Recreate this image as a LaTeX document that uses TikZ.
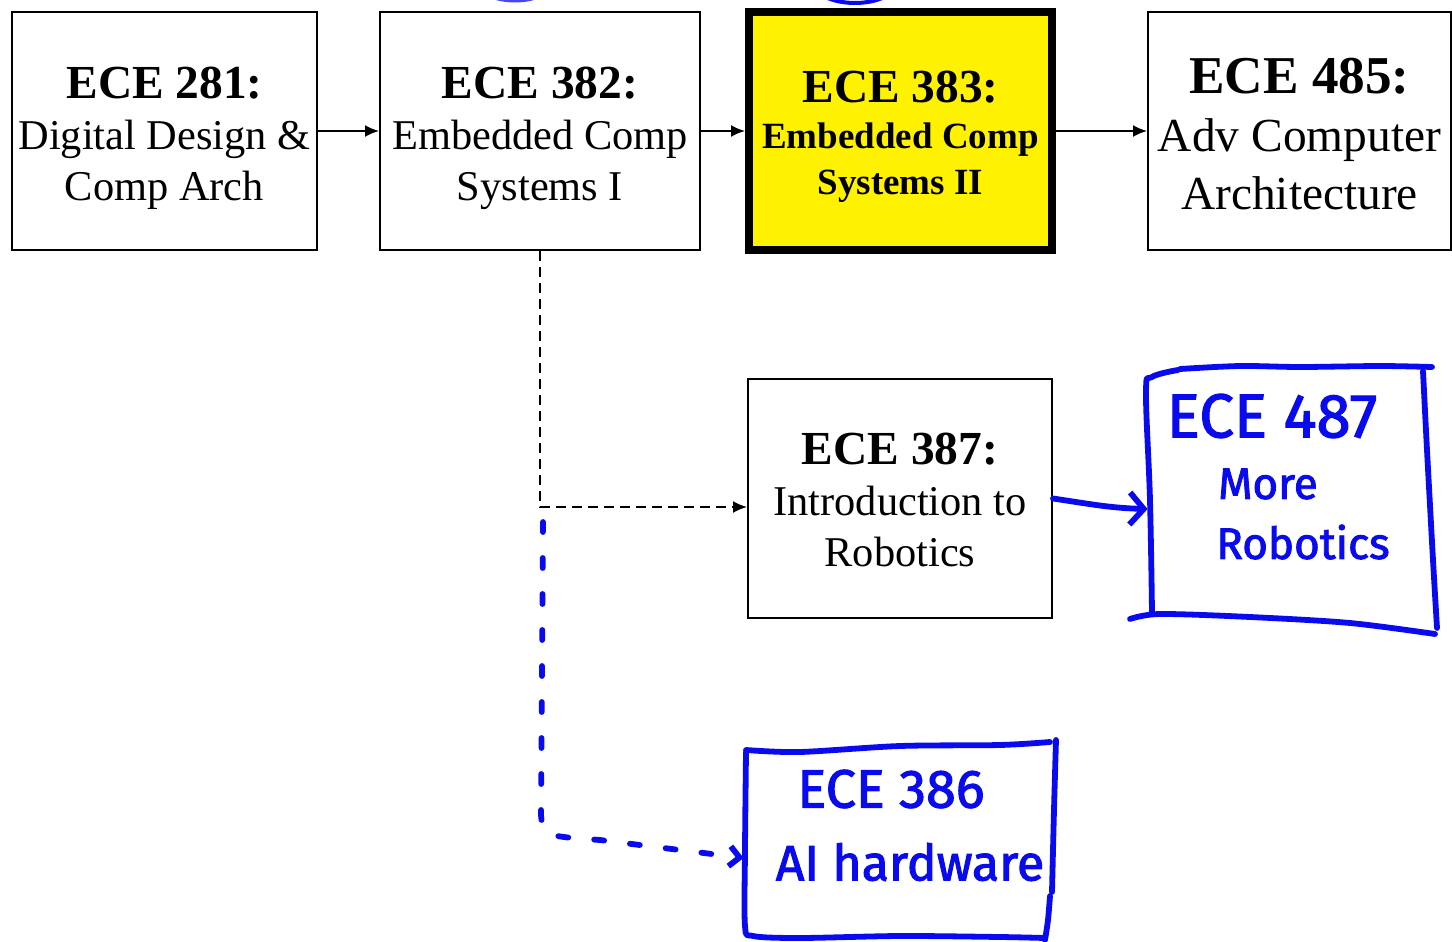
\documentclass[tikz,border=0pt]{standalone}
\usepackage{fontspec}
\setmainfont{Liberation Serif}
\newfontfamily\handfont{Fira Sans}[FakeBold=2]
\usetikzlibrary{arrows.meta,positioning,calc}

\definecolor{penblue}{RGB}{10,10,238}

\tikzset{
  course/.style={draw, line width=1pt, inner sep=0pt, align=center,
    minimum width=#1, minimum height=119pt},
  prereq/.style={line width=1pt, -{Latex[length=7pt,width=6pt]}},
  pen/.style={penblue, line width=2.9pt, line cap=round, line join=round},
  penlabel/.style={penblue, inner sep=0pt, font=\handfont\fontsize{#1}{#1}\selectfont},
}

% heading line, with a strut to push the text block down a little
\newcommand{\hd}[2][22.7pt]{{\fontsize{23.7}{25.5}\selectfont\bfseries\rule{0pt}{#1}#2}}

\begin{document}
\begin{tikzpicture}[x=0.5pt,y=-0.5pt]
  \useasboundingbox (0,0) rectangle (1452,942);

  % top row of courses
  \node[course=152.5pt, font=\fontsize{21.2}{25.5}\selectfont] (c281) at (164.5,131)
    {\hd{ECE 281:}\\Digital Design \&\\Comp Arch};
  \node[course=160pt, font=\fontsize{21.2}{25.5}\selectfont] (c382) at (540,131)
    {\hd{ECE 382:}\\Embedded Comp\\Systems I};
  \node[course=151.5pt, line width=4pt, fill=yellow,
        font=\fontsize{18.5}{23}\selectfont\bfseries] (c383) at (900.5,131)
    {{\fontsize{23.7}{23}\selectfont\rule{0pt}{21.7pt}ECE 383:}\\Embedded Comp\\Systems II};
  \node[course=151.5pt, font=\fontsize{23.7}{29}\selectfont] (c485) at (1299.5,131)
    {{\fontsize{26.6}{29}\selectfont\bfseries\rule{0pt}{20.6pt}ECE 485:}\\Adv Computer\\Architecture};

  \node[course=152pt, minimum height=119.5pt, font=\fontsize{21.2}{25.5}\selectfont]
    (c387) at (900,498.5) {\hd[17.7pt]{ECE 387:}\\Introduction to\\Robotics};

  \draw[prereq] (c281) -- (c382);
  \draw[prereq] (c382) -- (c383);
  \draw[prereq] (c383) -- (c485);
  \draw[prereq, dash pattern=on 5pt off 3pt] (c382.south) |- ([yshift=-4.25pt]c387.west);

  % pen additions
  \node[minimum width=141pt, minimum height=128.5pt] (c487) at (1289,497) {};
  \node[minimum width=155pt, minimum height=97.5pt] (c386) at (899,840) {};

  \draw[pen] plot[smooth, tension=0.6] coordinates
    {(1152,612) (1150,500) (1146,392) (1152,377) (1178,370)};
  \draw[pen] plot[smooth] coordinates
    {(1180,369) (1240,366) (1300,367) (1380,366) (1432,367)};
  \draw[pen] plot[smooth] coordinates {(1423,371) (1427,450) (1433,560) (1437,628)};
  \draw[pen] plot[smooth] coordinates
    {(1130,619) (1160,614) (1250,617) (1350,623) (1435,634)};

  \draw[pen] plot[smooth, tension=0.5] coordinates
    {(746,752) (745,850) (745,926) (753,936) (800,938) (900,936) (1000,937) (1045,938)};
  \draw[pen] plot[smooth] coordinates
    {(746,750) (800,752) (900,746) (1000,745) (1050,742)};
  \draw[pen] plot[smooth] coordinates {(1056,740) (1054,810) (1052,892)};
  \draw[pen] plot[smooth] coordinates {(1050,896) (1048,920) (1045,940)};

  \node[penlabel=31pt] (t487) at (1272,416) {ECE 487};
  \node[penlabel=22pt] (tmore) at (1268,484) {More};
  \node[penlabel=22pt] (trob) at (1303,542) {Robotics};
  \node[penlabel=27pt] (t386) at (891,789) {ECE 386};
  \node[penlabel=25pt] (tai) at (910,862) {AI hardware};

  \draw[pen, -{Straight Barb[length=7pt,width=16pt]}]
    (c387.east) .. controls (1090,504) and (1110,508) .. ([yshift=-6pt]c487.west);

  \coordinate (fork) at (543,522);
  \draw[pen, dash pattern=on 5pt off 13pt, -{Straight Barb[length=5pt,width=10pt]}]
    (fork) -- (541,815) .. controls (543,836) .. (600,840)
    -- ([yshift=-9pt]c386.west);

  % circles cut off above
  \draw[penblue!75, line width=1.5pt] (515,-20) ellipse [x radius=20pt, y radius=10.5pt];
  \draw[penblue, line width=2pt] (855,-25) ellipse [x radius=24pt, y radius=14pt];
\end{tikzpicture}
\end{document}
